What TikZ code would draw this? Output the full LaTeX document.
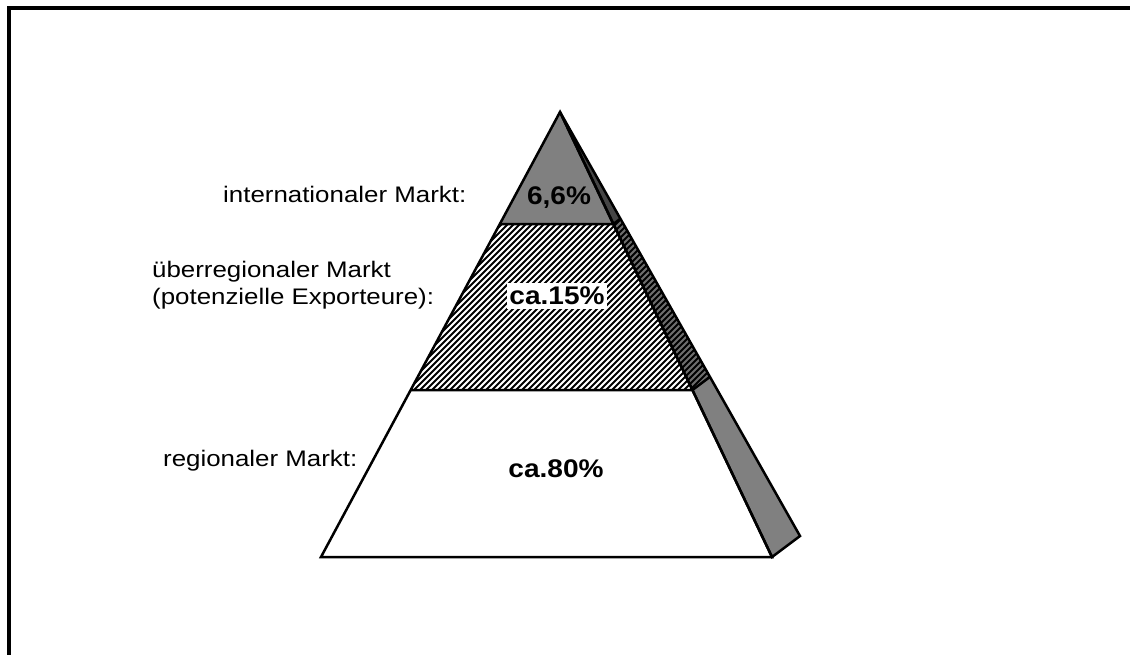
\documentclass[tikz,border=0pt]{standalone}
\usepackage{fontspec}
\setmainfont{Liberation Sans}
\usepackage{graphicx}
\newcommand{\sxn}[1]{\scalebox{1.15}[1]{#1}}
\newcommand{\sxb}[1]{\scalebox{1.1}[1]{#1}}
\definecolor{midgray}{HTML}{808080}
\definecolor{darkgray2}{HTML}{454545}
\begin{document}
\begin{tikzpicture}[x=1pt,y=-1pt,
  lbl/.style={font=\fontsize{22.5}{26}\selectfont, inner sep=0pt, anchor=base west},
  pct/.style={font=\fontsize{25.5}{28}\selectfont\bfseries, inner sep=0pt},
  edge/.style={line width=2.5pt, line join=miter},
  hatchline/.style={line width=2pt}]
\useasboundingbox (0,0) rectangle (1130,654);
\fill[white] (0,0) rectangle (1130,654);
% frame
\draw[line width=3.3pt] (9,660) -- (9,8) -- (1140,8);
% geometry
\coordinate (A) at (560,112);
\coordinate (FL) at (321,557);
\coordinate (FR) at (772,557);
\coordinate (BR) at (800,536);
\coordinate (L1) at (499.8,224);
\coordinate (R1) at (613.4,224);
\coordinate (S1) at (620.4,218.7);
\coordinate (L2) at (410.7,390);
\coordinate (R2) at (692.4,390);
\coordinate (S2) at (709.9,376.9);
% fills
\fill[midgray] (A) -- (L1) -- (R1) -- cycle;
\fill[darkgray2] (A) -- (R1) -- (S1) -- cycle;
\fill[white] (L2) -- (R2) -- (FR) -- (FL) -- cycle;
\fill[midgray] (R2) -- (S2) -- (BR) -- (FR) -- cycle;
% front hatch
\begin{scope}
  \clip (L1) -- (R1) -- (R2) -- (L2) -- cycle;
  \fill[white] (L1) -- (R1) -- (R2) -- (L2) -- cycle;
  \foreach \c in {714,720,...,1100} {
    \draw[hatchline] (\c-400,400) -- (\c-210,210);
  }
\end{scope}
% side hatch
\begin{scope}
  \clip (R1) -- (S1) -- (S2) -- (R2) -- cycle;
  \fill[midgray!85!black] (R1) -- (S1) -- (S2) -- (R2) -- cycle;
  \foreach \c in {714,720,...,1100} {
    \draw[hatchline] (\c-400,400) -- (\c-210,210);
  }
\end{scope}
% outlines
\draw[edge] (A) -- (FL) -- (FR) -- cycle;
\draw[edge] (A) -- (FR) -- (BR) -- cycle;
\draw[edge] (L1) -- (R1) -- (S1);
\draw[edge] (L2) -- (R2) -- (S2);
% labels
\node[lbl] (lint) at (223,202) {\sxn{internationaler Markt:}};
\node[lbl] (lueb1) at (152,277) {\sxn{überregionaler Markt}};
\node[lbl] (lueb2) at (152,304) {\sxn{(potenzielle Exporteure):}};
\node[lbl] (lreg) at (163,466) {\sxn{regionaler Markt:}};
% percentages
\node[pct] (p1) at (559,198) {\sxb{6,6\%}};
\node[pct, fill=white, inner xsep=2pt, inner ysep=4pt] (p2) at (557,296) {\sxb{ca.15\%}};
\node[pct] (p3) at (556,469) {\sxb{ca.80\%}};
\end{tikzpicture}
\end{document}
